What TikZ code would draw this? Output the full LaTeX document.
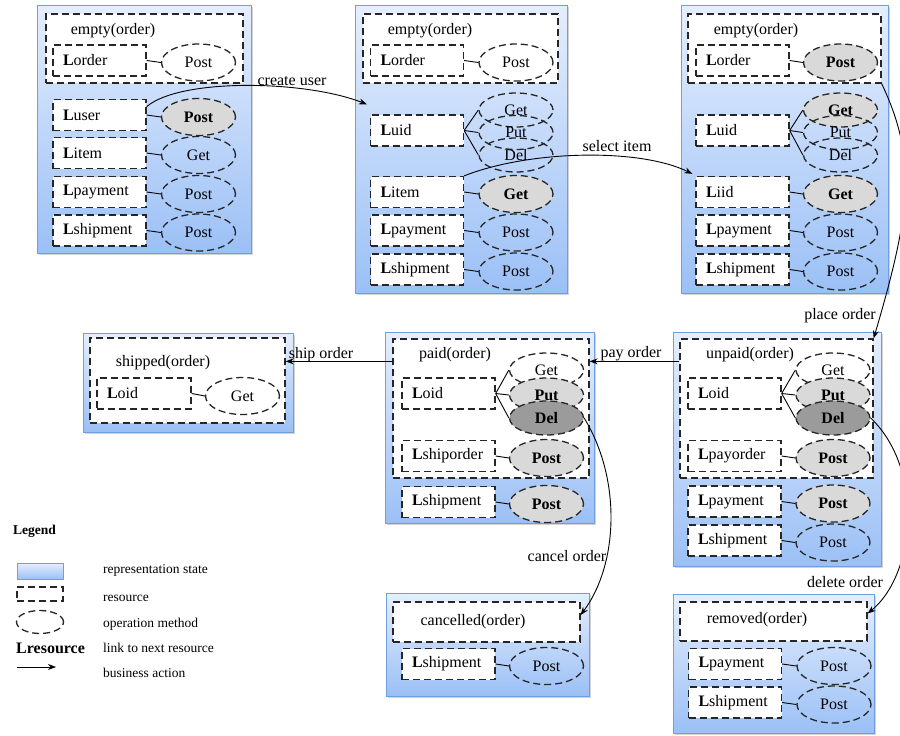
\documentclass[tikz,border=0pt]{standalone}
\usepackage{fontspec}
\setmainfont{Liberation Serif}
\usetikzlibrary{arrows.meta,calc,shapes.geometric,shadows}

\definecolor{sttop}{RGB}{229,238,253}
\definecolor{stbot}{RGB}{155,192,246}
\definecolor{stedge}{RGB}{112,158,222}
\definecolor{opgray}{RGB}{217,217,217}
\definecolor{deldark}{RGB}{155,155,155}

\newcommand\msz{\fontsize{16}{19}\selectfont}
\newcommand\lsz{\fontsize{13.5}{16}\selectfont}

\tikzset{
  panel/.style={draw=stedge, line width=1pt, top color=sttop, bottom color=stbot,
    inner sep=0pt, drop shadow={shadow xshift=2pt,shadow yshift=-2pt,opacity=0.35}},
  dsh/.style={draw=black!85, line width=1.3pt, dash pattern=on 7pt off 4pt},
  grp/.style={dsh, fill=white, inner sep=0pt},
  res/.style={dsh, fill=white, minimum height=31pt, text width=73pt, inner xsep=10pt,
    inner ysep=0pt, align=left, font=\msz},
  op/.style={ellipse, dsh, minimum width=74pt, minimum height=37pt, inner sep=0pt, font=\msz},
  opt/.style={op, minimum height=34pt},
  opon/.style={op, fill=opgray, font=\msz\bfseries},
  opton/.style={opt, fill=opgray, font=\msz\bfseries},
  optdel/.style={opt, fill=deldark, font=\msz\bfseries},
  lnk/.style={draw=black, line width=0.9pt},
  act/.style={-{Stealth[length=8pt,width=6pt]}, line width=0.9pt},
  lbl/.style={font=\msz, inner sep=1pt},
  leg/.style={font=\lsz, anchor=west, inner sep=0pt}
}

% #1 name, #2 box x, #3 y, #4 label, #5 op style, #6 op text, #7 ellipse x
\newcommand\rrow[7]{%
  \node[res] (#1) at (#2,#3) {\textbf{L}#4};
  \node[#5] (#1op) at (#7,#3+2) {#6};
  \draw[lnk] (#1.east) -- (#1op.west);}

\begin{document}
\begin{tikzpicture}[x=1pt,y=-1pt]
\useasboundingbox (0,0) rectangle (900,736);

% ---------- Panel A ----------
\node[panel, minimum width=214pt, minimum height=248pt] (pA) at (144,129) {};
\node[grp, minimum width=197pt, minimum height=69pt] (aGroup) at (144.5,48.5) {};
\node[lbl] (aT) at (113,31) {empty(order)};
\rrow{aOrder}{99.5}{60.5}{order}{op}{Post}{198.5}
\rrow{aUser}{99.5}{115}{user}{opon}{Post}{198.5}
\rrow{aItem}{99.5}{153}{item}{op}{Get}{198.5}
\rrow{aPay}{99.5}{192}{payment}{op}{Post}{198.5}
\rrow{aShip}{99.5}{230.5}{shipment}{op}{Post}{198.5}

% ---------- Panel B ----------
\node[panel, minimum width=212pt, minimum height=288pt] (pB) at (461,149) {};
\node[grp, minimum width=195pt, minimum height=69pt] (bGroup) at (460.5,48.5) {};
\node[lbl] (bT) at (430,31) {empty(order)};
\rrow{bOrder}{417}{60.5}{order}{op}{Post}{516}
\node[res] (bUid) at (417,130.5) {\textbf{L}uid};
\node[opt] (bGet) at (516,110) {Get};
\node[opt] (bPut) at (516,132.5) {Put};
\node[opt] (bDel) at (516,155) {Del};
\foreach \e in {bGet,bPut,bDel} \draw[lnk] (bUid.east) -- (\e.west);
\rrow{bItem}{417}{192}{item}{opon}{Get}{516}
\rrow{bPay}{417}{230.5}{payment}{op}{Post}{516}
\rrow{bShip}{417}{269.5}{shipment}{op}{Post}{516}

% ---------- Panel C ----------
\node[panel, minimum width=207pt, minimum height=288pt] (pC) at (784.5,149) {};
\node[grp, minimum width=193pt, minimum height=69pt] (cGroup) at (784.5,48.5) {};
\node[lbl] (cT) at (756,31) {empty(order)};
\rrow{cOrder}{742.5}{60.5}{order}{opon}{Post}{840.5}
\node[res] (cUid) at (742.5,130.5) {\textbf{L}uid};
\node[opton] (cGet) at (840.5,110) {Get};
\node[opt] (cPut) at (840.5,132.5) {Put};
\node[opt] (cDel) at (840.5,155) {Del};
\foreach \e in {cGet,cPut,cDel} \draw[lnk] (cUid.east) -- (\e.west);
\rrow{cIid}{742.5}{192}{iid}{opon}{Get}{840.5}
\rrow{cPay}{742.5}{230.5}{payment}{op}{Post}{840.5}
\rrow{cShip}{742.5}{269.5}{shipment}{op}{Post}{840.5}

% ---------- Panel D (shipped) ----------
\node[panel, minimum width=210pt, minimum height=99pt] (pD) at (188,382.5) {};
\node[grp, minimum width=195pt, minimum height=85pt] (dGroup) at (187.5,380.5) {};
\node[lbl] (dT) at (163,363) {shipped(order)};
\node[res, text width=74pt] (dOid) at (144,393.5) {\textbf{L}oid};
\node[op] (dGet) at (242.5,396) {Get};
\draw[lnk] (dOid.east) -- (dGet.west);

% ---------- Panel E (paid) ----------
\node[panel, minimum width=209pt, minimum height=191pt] (pE) at (489.5,427.5) {};
\node[grp, minimum width=196pt, minimum height=139pt] (eGroup) at (491,408.5) {};
\node[lbl] (eT) at (455,355) {paid(order)};
\node[res] (eOid) at (448.5,393.5) {\textbf{L}oid};
\node[opt] (eGet) at (546.5,370) {Get};
\node[opton] (ePut) at (546.5,395) {Put};
\node[optdel] (eDel) at (546.5,418) {Del};
\foreach \e in {eGet,ePut,eDel} \draw[lnk] (eOid.east) -- (\e.west);
\rrow{eShipo}{448.5}{456}{shiporder}{opon}{Post}{546.5}
\rrow{eShip}{448.5}{502}{shipment}{opon}{Post}{546.5}

% ---------- Panel F (unpaid) ----------
\node[panel, minimum width=208pt, minimum height=234pt] (pF) at (777,449) {};
\node[grp, minimum width=193pt, minimum height=139pt] (fGroup) at (776.5,408.5) {};
\node[lbl] (fT) at (750,355) {unpaid(order)};
\node[res] (fOid) at (734.5,393.5) {\textbf{L}oid};
\node[opt] (fGet) at (833,370) {Get};
\node[opton] (fPut) at (833,395) {Put};
\node[optdel] (fDel) at (833,418) {Del};
\foreach \e in {fGet,fPut,fDel} \draw[lnk] (fOid.east) -- (\e.west);
\rrow{fPayo}{734.5}{456}{payorder}{opon}{Post}{833}
\rrow{fPay}{734.5}{501.5}{payment}{opon}{Post}{833}
\rrow{fShip}{734.5}{540.5}{shipment}{op}{Post}{833}

% ---------- Panel G (cancelled) ----------
\node[panel, minimum width=203pt, minimum height=103pt] (pG) at (487.5,644.5) {};
\node[grp, minimum width=187pt, minimum height=40pt] (gGroup) at (486.5,622) {};
\node[lbl] (gT) at (473,622) {cancelled(order)};
\rrow{gShip}{448.5}{664}{shipment}{op}{Post}{546.5}

% ---------- Panel H (removed) ----------
\node[panel, minimum width=201pt, minimum height=139pt] (pH) at (773.5,663.5) {};
\node[grp, minimum width=187pt, minimum height=39pt] (hGroup) at (773.5,621.5) {};
\node[lbl] (hT) at (757,620) {removed(order)};
\rrow{hPay}{735}{664}{payment}{op}{Post}{834}
\rrow{hShip}{735}{702.5}{shipment}{op}{Post}{834}

% ---------- business actions ----------
\draw[act] (aUser.10) .. controls (180,78) and (305,80) .. ($(bUid.north west)+(-3,-10)$);
\node[lbl] (lCreate) at (292,81) {create user};

\draw[act] (bItem.north east) .. controls (530,150) and (640,148) .. ($(cIid.north west)+(-3,-2)$);
\node[lbl] (lSelect) at (617,146) {select item};

\draw[act] (cGroup.south east) .. controls (918,160) and (910,215) .. (fGroup.north east);
\node[lbl] (lPlace) at (840,316) {place order};

\draw[act] ($(fGroup.north west)+(0,23)$) -- ($(eGroup.north east)+(0,23)$);
\node[lbl] (lPay) at (631,354) {pay order};

\draw[act] ($(eGroup.north west)+(0,23)$) -- ($(dGroup.north east)+(0,24)$);
\node[lbl] (lShip) at (321,355) {ship order};

\draw[act] (eDel.east) .. controls (622,480) and (618,565) .. ($(gGroup.east)+(0,-7)$);
\node[lbl] (lCancel) at (567,556) {cancel order};

\draw[act] (fDel.east) .. controls (925,470) and (915,575) .. ($(hGroup.east)+(0,-8)$);
\node[lbl] (lDelete) at (845,582) {delete order};

% ---------- legend ----------
\node[font=\lsz\bfseries, anchor=west, inner sep=0pt] (legT) at (13,531) {Legend};
\node[draw=stedge, line width=1pt, top color=sttop, bottom color=stbot, inner sep=0pt,
  drop shadow={shadow xshift=1pt,shadow yshift=-1pt,opacity=0.3},
  minimum width=46pt, minimum height=16pt] (legS) at (40,571) {};
\node[dsh, minimum width=46pt, minimum height=14pt, inner sep=0pt] (legR) at (40,594) {};
\node[ellipse, dsh, minimum width=47pt, minimum height=23pt, inner sep=0pt] (legO) at (40,622) {};
\node[font=\msz\bfseries, anchor=west, inner sep=0pt] (legL) at (16,648) {Lresource};
\coordinate (legA1) at (17,667);
\coordinate (legA2) at (56,667);
\draw[act] (legA1) -- (legA2);
\node[leg] (legt1) at (103,570) {representation state};
\node[leg] (legt2) at (103,598) {resource};
\node[leg] (legt3) at (103,624) {operation method};
\node[leg] (legt4) at (103,648) {link to next resource};
\node[leg] (legt5) at (103,673) {business action};
\end{tikzpicture}
\end{document}
